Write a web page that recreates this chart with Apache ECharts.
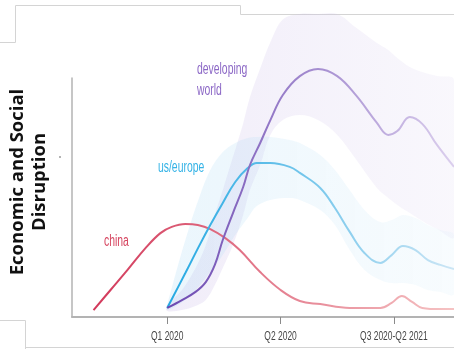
<!DOCTYPE html>
<html>
<head>
<meta charset="utf-8">
<script src="https://cdn.jsdelivr.net/npm/echarts@6/dist/echarts.min.js"></script>
<style>
  html, body { margin: 0; padding: 0; background: #fff; }
  #main { width: 454px; height: 349px; }
</style>
</head>
<body>
<div id="main"></div>
<script>
// x: 1 = Q1 2020, 2 = Q2 2020, 3 = Q3 2020-Q2 2021
var quarterTicks = [1, 2, 3];
var quarterLabels = ['Q1 2020', 'Q2 2020', 'Q3 2020-Q2 2021'];

var chinaX = [0.35, 0.50, 0.65, 0.81, 0.94, 1.04, 1.16, 1.27, 1.38, 1.51, 1.64, 1.82, 2.00, 2.17, 2.35, 2.61, 2.88, 2.98, 3.07, 3.16, 3.25, 3.41, 3.53];
var chinaY = [2.9, 11.3, 19.7, 28.9, 35.1, 37.7, 38.9, 38.5, 36.8, 33.1, 28.0, 18.8, 11.3, 6.7, 5.4, 3.8, 3.8, 5.9, 8.8, 6.3, 3.8, 3.3, 3.3];

var usX = [1.00, 1.16, 1.29, 1.38, 1.49, 1.60, 1.71, 1.79, 1.91, 2.08, 2.17, 2.35, 2.48, 2.61, 2.74, 2.88, 2.98, 3.08, 3.19, 3.30, 3.41, 3.53];
var usY = [3.8, 18.4, 30.5, 38.5, 47.7, 56.5, 62.3, 64.4, 64.4, 62.8, 60.3, 54.0, 45.6, 35.6, 26.8, 22.6, 25.9, 29.7, 28.0, 23.8, 21.8, 20.1];
var usLow = [2.9, 7.1, 13.4, 18.8, 25.9, 34.3, 41.4, 46.4, 49.0, 49.8, 49.0, 44.8, 38.5, 28.0, 19.7, 15.5, 14.2, 14.2, 13.4, 11.3, 10.5, 9.6];
var usHigh = [5.0, 32.2, 51.0, 61.5, 69.0, 72.8, 74.9, 75.3, 75.3, 74.1, 72.8, 67.8, 61.5, 53.1, 44.8, 39.7, 40.6, 42.7, 41.4, 38.5, 36.4, 34.3];

var devX = [1.00, 1.13, 1.25, 1.34, 1.42, 1.49, 1.58, 1.67, 1.73, 1.82, 1.91, 2.02, 2.17, 2.33, 2.50, 2.67, 2.85, 2.95, 3.03, 3.14, 3.25, 3.38, 3.53];
var devY = [3.8, 7.1, 10.5, 14.6, 21.8, 32.2, 43.5, 54.4, 63.6, 72.8, 82.4, 92.9, 100.8, 103.8, 100.8, 92.5, 81.2, 76.2, 77.8, 83.7, 80.8, 72.0, 62.8];
var devLow = [2.5, 2.9, 4.6, 7.1, 13.4, 20.5, 30.1, 42.7, 53.1, 63.6, 76.2, 82.4, 84.5, 82.4, 76.2, 65.7, 54.0, 49.8, 46.9, 43.5, 40.2, 36.8, 33.5];
var devHigh = [5.0, 11.3, 20.5, 30.1, 42.7, 53.1, 67.0, 81.0, 92.0, 104.0, 115.0, 124.5, 126.8, 126.8, 126.8, 120.9, 114.6, 111.7, 108.4, 104.6, 102.5, 100.8, 99.2];

function pts(xs, ys) {
    return xs.map(function (x, i) { return [x, ys[i]]; });
}
function grad(c1, c2) {
    return new echarts.graphic.LinearGradient(0, 0, 1, 0, [
        { offset: 0, color: c1 },
        { offset: 1, color: c2 }
    ]);
}

var labelFont = "16px 'Liberation Sans', Arial, sans-serif";
var tickFont = "13px 'Liberation Sans', Arial, sans-serif";
var squeeze = 0.65; // the original uses a narrow face

// shaded range around a curve, drawn as one smoothed polygon
function band(name, xs, lo, hi, fill) {
    return {
        name: name, type: 'custom', silent: true, clip: false, z: 1,
        data: xs.map(function (x, i) { return [x, lo[i], hi[i]]; }),
        encode: { x: 0, y: [1, 2] },
        renderItem: function (params, api) {
            if (params.dataIndex !== 0) return null;
            var top = xs.map(function (x, i) { return api.coord([x, hi[i]]); });
            var bot = xs.map(function (x, i) { return api.coord([x, lo[i]]); }).reverse();
            return {
                type: 'polygon',
                shape: { points: top.concat(bot), smooth: 0.35 },
                style: { fill: fill }
            };
        }
    };
}

function curve(name, xs, ys, c1, c2) {
    return {
        name: name, type: 'line', data: pts(xs, ys), smooth: 0.4,
        showSymbol: false, silent: true, clip: false, z: 3,
        lineStyle: { width: 2, color: grad(c1, c2) }
    };
}

var myChart = echarts.init(document.getElementById('main'));
myChart.setOption({
    animation: false,
    grid: { left: 72, right: 0, top: 78, bottom: 32 },
    xAxis: {
        type: 'value', min: 0.16, max: 3.53,
        splitLine: { show: false },
        axisLine: { show: true, lineStyle: { color: '#b3b3b3', width: 2 } },
        axisTick: {
            show: true, customValues: quarterTicks, length: 7,
            lineStyle: { color: '#8a8a8a', width: 1 }
        },
        axisLabel: { show: false }
    },
    yAxis: {
        type: 'value', min: 0, max: 100,
        splitLine: { show: false },
        axisLine: { show: true, lineStyle: { color: '#b3b3b3', width: 1.5 } },
        axisTick: { show: false },
        axisLabel: { show: false }
    },
    series: [
        band('devBand', devX, devLow, devHigh, grad('rgba(185,165,225,0.2)', 'rgba(225,218,243,0.2)')),
        band('usBand', usX, usLow, usHigh, grad('rgba(150,208,242,0.2)', 'rgba(210,235,249,0.16)')),
        curve('china', chinaX, chinaY, '#d2385a', '#f6c4c4'),
        curve('us/europe', usX, usY, '#22a8e2', '#cde6f5'),
        curve('developing world', devX, devY, '#6a46b0', '#dcd0ee')
    ]
});

// tick labels in a condensed look, placed through the x axis scale
var tickTexts = quarterTicks.map(function (v, i) {
    var px = myChart.convertToPixel({ xAxisIndex: 0 }, v);
    return {
        type: 'text', silent: true, x: px, y: 336, scaleX: squeeze,
        style: {
            text: quarterLabels[i], font: tickFont, fill: '#444',
            align: 'center', verticalAlign: 'middle'
        }
    };
});

myChart.setOption({
    graphic: [
        {
            type: 'polyline', silent: true,
            shape: { points: [[0, 42.5], [15.5, 42.5], [15.5, 5.5], [240.5, 5.5], [240.5, 14.5], [454, 14.5]] },
            style: { fill: null, stroke: '#d4d4d4', lineWidth: 1 }
        },
        {
            type: 'polyline', silent: true,
            shape: { points: [[0, 320.5], [25.5, 320.5], [25.5, 349]] },
            style: { fill: null, stroke: '#d4d4d4', lineWidth: 1 }
        },
        {
            type: 'line', silent: true,
            shape: { x1: 25.5, y1: 347.5, x2: 454, y2: 347.5 },
            style: { stroke: '#d4d4d4', lineWidth: 1 }
        },
        {
            type: 'text', silent: true, x: 29, y: 182, rotation: Math.PI / 2,
            style: {
                text: 'Economic and Social\nDisruption',
                font: "bold 18.5px 'Open Sans', sans-serif", lineHeight: 22,
                fill: '#111', align: 'center', verticalAlign: 'middle'
            }
        },
        {
            type: 'circle', silent: true, shape: { cx: 60, cy: 157, r: 0.8 },
            style: { fill: '#555' }
        },
        {
            type: 'text', silent: true, x: 197, y: 59, scaleX: squeeze,
            style: { text: 'developing\nworld', font: labelFont, lineHeight: 21, fill: '#8c68c6' }
        },
        {
            type: 'text', silent: true, x: 158, y: 160, scaleX: squeeze,
            style: { text: 'us/europe', font: labelFont, fill: '#35b3e6' }
        },
        {
            type: 'text', silent: true, x: 104, y: 234, scaleX: squeeze,
            style: { text: 'china', font: labelFont, fill: '#d6445f' }
        }
    ].concat(tickTexts)
});
</script>
</body>
</html>
